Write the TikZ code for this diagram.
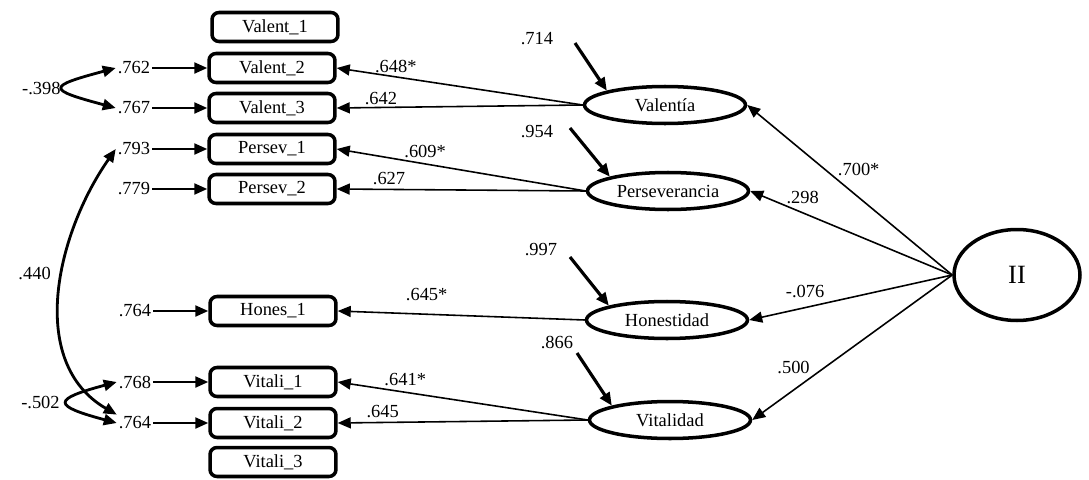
\documentclass[tikz,border=0pt]{standalone}
\usepackage{fontspec}
\setmainfont{Liberation Serif}
\usetikzlibrary{positioning,arrows.meta,shapes.geometric}

\begin{document}
\begin{tikzpicture}[
    x=0.02cm, y=0.02cm,
    font=\rmfamily\fontsize{10.5}{12.5}\selectfont,
    item/.style={
        rectangle, draw, line width=2pt, rounded corners=4pt,
        minimum width=2.52cm, minimum height=0.58cm, inner sep=0pt
    },
    factor/.style={
        ellipse, draw, line width=2pt, minimum width=3.22cm,
        minimum height=0.74cm, inner sep=0pt
    },
    num/.style={inner sep=1pt},
    loadflow/.style={line width=0.9pt, -{Triangle[length=2.6mm, width=2.2mm]}},
    errflow/.style={line width=1.3pt, -{Triangle[length=2.6mm, width=2.2mm]}},
    distflow/.style={line width=1.8pt, -{Triangle[length=2.6mm, width=2.2mm]}},
    covflow/.style={line width=1.6pt, {Triangle[length=2.6mm, width=2.2mm]}-{Triangle[length=2.6mm, width=2.2mm]}}
]
    \useasboundingbox (0,0) rectangle (1089,-480);

    % observed items
    \node[item] (va1) at (275,-27) {Valent\_1};
    \node[item] (va2) at (272,-68) {Valent\_2};
    \node[item] (va3) at (272,-108) {Valent\_3};
    \node[item] (pe1) at (272,-149) {Persev\_1};
    \node[item] (pe2) at (272,-189) {Persev\_2};
    \node[item] (ho1) at (273,-311) {Hones\_1};
    \node[item] (vi1) at (273,-382) {Vitali\_1};
    \node[item] (vi2) at (273,-423) {Vitali\_2};
    \node[item] (vi3) at (273,-462) {Vitali\_3};

    % factors
    \node[factor] (val) at (665,-105) {Valentía};
    \node[factor] (per) at (668,-191) {Perseverancia};
    \node[factor] (hon) at (667,-320) {Honestidad};
    \node[factor] (vit) at (670,-420) {Vitalidad};
    \node[factor, minimum width=2.52cm, minimum height=1.82cm,
          font=\rmfamily\fontsize{15}{18}\selectfont] (ii) at (1017,-275) {II};

    % error terms
    \node[num, left=1.1cm of va2] (e2) {.762};
    \node[num, left=1.1cm of va3] (e3) {.767};
    \node[num, left=1.1cm of pe1] (ep1) {.793};
    \node[num, left=1.1cm of pe2] (ep2) {.779};
    \node[num, left=1.1cm of ho1] (eh1) {.764};
    \node[num, left=1.1cm of vi1] (ev1) {.768};
    \node[num, left=1.1cm of vi2] (ev2) {.764};
    \foreach \e/\b in {e2/va2, e3/va3, ep1/pe1, ep2/pe2, eh1/ho1, ev1/vi1, ev2/vi2}
        \draw[errflow] (\e) -- (\b);

    % disturbances
    \node[num] (uval) at (537,-39) {.714};
    \node[num] (uper) at (537,-132) {.954};
    \node[num] (uhon) at (541,-250) {.997};
    \node[num] (uvit) at (557,-342) {.866};
    \coordinate (dval) at (575,-43);
    \coordinate (dper) at (570,-128);
    \coordinate (dhon) at (570,-257);
    \coordinate (dvit) at (577,-353);
    \draw[distflow] (dval) -- (val.north west);
    \draw[distflow] (dper) -- (per.north west);
    \draw[distflow] (dhon) -- (hon.north west);
    \draw[distflow] (dvit) -- (vit.north west);

    % loadings
    \draw[loadflow] (val.west) -- node[num, pos=0.76, above=1pt] (l1) {.648*} (va2.east);
    \draw[loadflow] (val.west) -- node[num, pos=0.82, above] (l2) {.642} (va3.east);
    \draw[loadflow] (per.west) -- node[num, pos=0.645, above=2pt] (l3) {.609*} (pe1.east);
    \draw[loadflow] (per.west) -- node[num, pos=0.79, above=1pt] (l4) {.627} (pe2.east);
    \draw[loadflow] (hon.west) -- node[num, pos=0.64, above=6pt] (l5) {.645*} (ho1.east);
    \draw[loadflow] (vit.west) -- node[num, pos=0.73, above=2pt] (l6) {.641*} (vi1.east);
    \draw[loadflow] (vit.west) -- node[num, pos=0.82, above=1pt] (l7) {.645} (vi2.east);

    % second order
    \draw[loadflow] (ii.west) -- node[num, pos=0.57, above right] (s1) {.700*} (val.east);
    \draw[loadflow] (ii.west) -- node[num, pos=0.74, above=4pt] (s2) {.298} (per.east);
    \draw[loadflow] (ii.west) -- node[num, pos=0.725, above=4pt] (s3) {-.076} (hon.east);
    \draw[loadflow] (ii.west) -- node[num, pos=0.7, above left] (s4) {.500} (vit.east);

    % covariances
    \draw[covflow] (e2.west) to[out=195, in=165, looseness=4.6]
        node[num, left] (c1) {-.398} (e3.west);
    \draw[covflow] (ev1.west) to[out=195, in=165, looseness=4.2]
        node[num, left=3pt] (c2) {-.502} (ev2.west);
    \draw[covflow] (ep1.west) to[out=235, in=150, looseness=1]
        node[num, pos=0.43, left=5pt] (c3) {.440} (ev2.north west);
\end{tikzpicture}
\end{document}
